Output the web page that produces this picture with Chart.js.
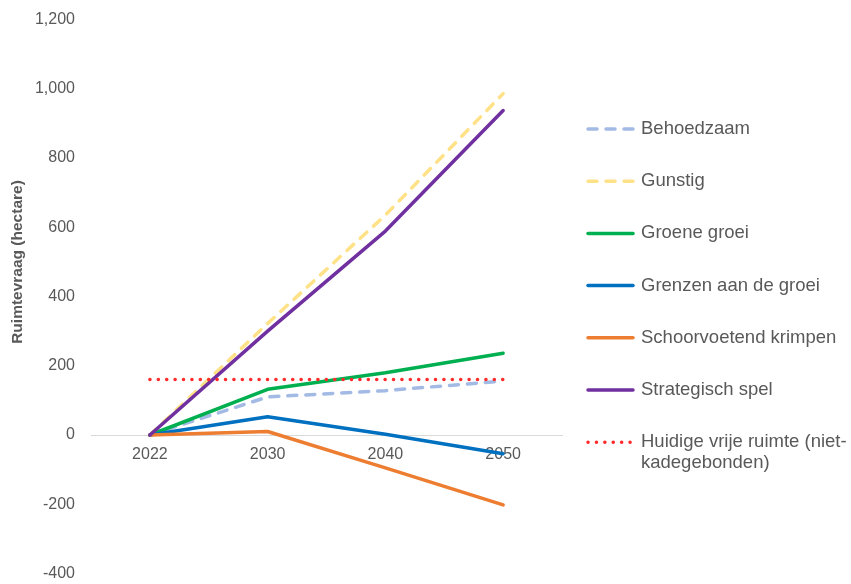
<!DOCTYPE html>
<html>
<head>
<meta charset="utf-8">
<script src="https://cdn.jsdelivr.net/npm/chart.js@4.4.1/dist/chart.umd.min.js"></script>
<style>
  html, body { margin: 0; padding: 0; background: #fff; }
  #wrap { width: 851px; height: 584px; position: relative; }
</style>
</head>
<body>
<div id="wrap"><canvas id="myChart"></canvas></div>
<script>
const jaren = ['2022', '2030', '2040', '2050'];
const behoedzaam = [0, 110, 128, 156];
const gunstig = [0, 322, 635, 986];
const groeneGroei = [0, 132, 180, 236];
const grenzen = [0, 53, 2, -54];
const schoorvoetend = [0, 10, -95, -202];
const strategisch = [0, 300, 589, 937];
const huidigeRuimte = [160, 160, 160, 160];
const namen = ['Behoedzaam', 'Gunstig', 'Groene groei', 'Grenzen aan de groei',
  'Schoorvoetend krimpen', 'Strategisch spel', ['Huidige vrije ruimte (niet-', 'kadegebonden)']];

const grijs = '#595959';
const lijn = 3.5;

function serie(i, data, kleur, dash, cap) {
  return {
    label: namen[i],
    data: data,
    borderColor: kleur,
    backgroundColor: kleur,
    borderWidth: lijn,
    borderDash: dash || [],
    borderCapStyle: cap || 'round',
    borderJoinStyle: 'round',
    pointRadius: 0,
    tension: 0,
    fill: false,
    order: 10 - i
  };
}

// legenda rechts, zelf getekend
const legendaPlugin = {
  id: 'legenda',
  afterDraw(chart) {
    const c = chart.ctx;
    const x0 = 588, x1 = 633, tx = 641;
    let y = 129;
    chart.data.datasets.forEach(function (ds) {
      c.save();
      c.strokeStyle = ds.borderColor;
      c.lineWidth = lijn;
      c.lineCap = ds.borderCapStyle;
      c.setLineDash(ds.borderDash);
      c.beginPath();
      c.moveTo(x0, y);
      c.lineTo(x1, y);
      c.stroke();
      c.setLineDash([]);
      c.fillStyle = grijs;
      c.font = '18.5px "Liberation Sans", Arial, sans-serif';
      c.textBaseline = 'middle';
      const regels = Array.isArray(ds.label) ? ds.label : [ds.label];
      regels.forEach(function (r, k) { c.fillText(r, tx, y + k * 20.5); });
      c.restore();
      y += 52.2;
    });
    // as-titel
    c.save();
    c.translate(18, 262);
    c.rotate(-Math.PI / 2);
    c.fillStyle = grijs;
    c.font = 'bold 15.5px "Liberation Sans", Arial, sans-serif';
    c.textAlign = 'center';
    c.textBaseline = 'middle';
    c.fillText('Ruimtevraag (hectare)', 0, 0);
    c.restore();
  }
};

const ctx = document.getElementById('myChart');
new Chart(ctx, {
  type: 'line',
  data: {
    labels: jaren,
    datasets: [
      serie(0, behoedzaam, '#a3bae4', [9, 9]),
      serie(1, gunstig, '#ffe187', [9, 9]),
      serie(2, groeneGroei, '#00b050'),
      serie(3, grenzen, '#0070c0'),
      serie(4, schoorvoetend, '#ed7d31'),
      serie(5, strategisch, '#7030a0'),
      serie(6, huidigeRuimte, '#ff2b2b', [0.1, 8.3])
    ]
  },
  plugins: [legendaPlugin],
  options: {
    responsive: true,
    maintainAspectRatio: false,
    animation: false,
    layout: { padding: { top: 19.5, bottom: 10.5, left: 0, right: 289 } },
    plugins: { legend: { display: false }, tooltip: { enabled: false } },
    scales: {
      x: {
        position: { y: 0 },
        offset: true,
        grid: { display: false, drawTicks: false, offset: true },
        border: { display: true, color: '#d9d9d9', width: 1 },
        afterFit: function (s) { s.height = 0; },
        ticks: { color: grijs, padding: 10, font: { family: '"Liberation Sans", Arial, sans-serif', size: 16 } }
      },
      y: {
        min: -400,
        max: 1200,
        grid: { display: false, drawTicks: false },
        border: { display: false },
        afterFit: function (s) { s.width = 91; s.paddingTop = 0; s.paddingBottom = 0; },
        ticks: {
          stepSize: 200,
          color: grijs,
          padding: 16,
          font: { family: '"Liberation Sans", Arial, sans-serif', size: 16 },
          callback: function (v) { return v.toLocaleString('en-US'); }
        }
      }
    }
  }
});
</script>
</body>
</html>
